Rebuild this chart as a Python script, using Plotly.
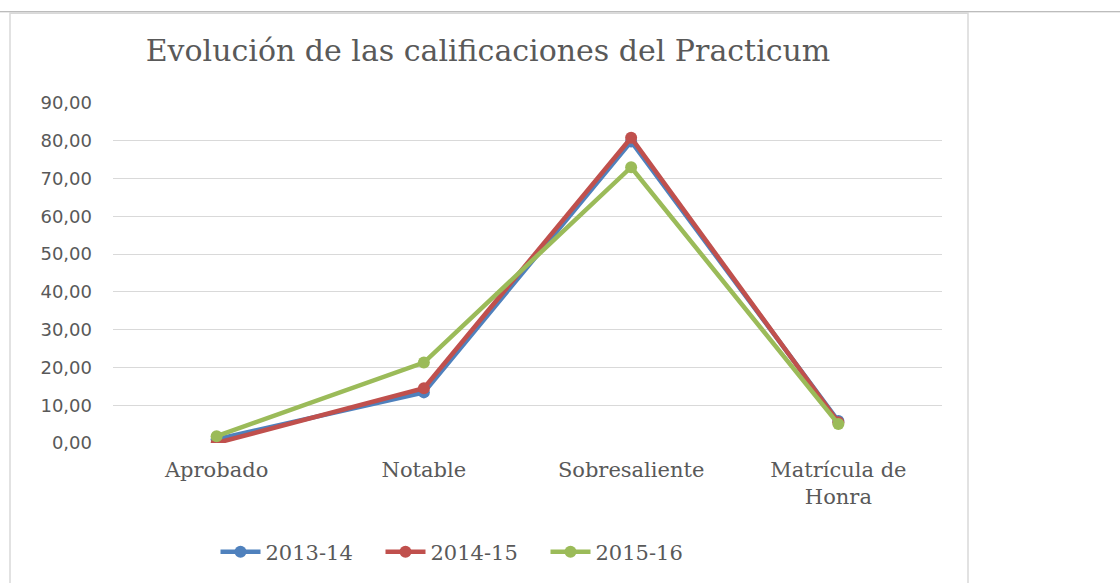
import plotly.graph_objects as go

categories = ["Aprobado", "Notable", "Sobresaliente", "Matrícula de<br>Honra"]
s2013 = [1.0, 13.4, 79.8, 5.8]
s2014 = [0.0, 14.5, 80.8, 5.5]
s2015 = [1.8, 21.3, 73.0, 5.0]
series_names = ["2013-14", "2014-15", "2015-16"]
colors = ["#4F81BD", "#C0504D", "#9BBB59"]
yticks = [0, 10, 20, 30, 40, 50, 60, 70, 80, 90]

fig = go.Figure()
for name, vals, col in zip(series_names, [s2013, s2014, s2015], colors):
    fig.add_trace(go.Scatter(
        x=categories, y=vals, name=name, mode="lines+markers",
        line=dict(color=col, width=4.5),
        marker=dict(color=col, size=12),
    ))

L, R, T, B = 113, 942, 103, 444
W, H = 1120, 583
def px(x):
    return (x - L) / (R - L)
def py(y):
    return (B - y) / (B - T)

shapes = [
    dict(type="rect", xref="paper", yref="paper", x0=px(10), x1=px(968), y0=py(590), y1=py(13),
         line=dict(color="#d9d9d9", width=1.5), fillcolor="rgba(0,0,0,0)", layer="below"),
    dict(type="line", xref="paper", yref="paper", x0=px(0), x1=px(1120), y0=py(11.5), y1=py(11.5),
         line=dict(color="#a6a6a6", width=1.2)),
]

fig.update_layout(
    width=W, height=H,
    margin=dict(l=L, r=W - R, t=T, b=H - B),
    paper_bgcolor="white", plot_bgcolor="white",
    separators=",.",
    title=dict(text="Evolución de las calificaciones del Practicum", x=488 / W, xanchor="center",
               y=1 - 50 / H, yanchor="middle",
               font=dict(family="DejaVu Serif", size=30, color="#595959")),
    xaxis=dict(showgrid=False, showline=False, ticks="", range=[-0.5, 3.5],
               ticklabelstandoff=12,
               tickfont=dict(family="DejaVu Serif", size=21, color="#595959")),
    yaxis=dict(range=[0, 90], tickvals=yticks, tickformat=".2f", showgrid=True,
               gridcolor="#d9d9d9", gridwidth=1, zeroline=False, showline=False,
               ticklabelstandoff=20,
               tickfont=dict(family="DejaVu Sans", size=18, color="#595959")),
    legend=dict(orientation="h", x=px(463), xanchor="center", y=py(552), yanchor="middle",
                font=dict(family="DejaVu Serif", size=21, color="#595959"),
                itemwidth=40, tracegroupgap=0, entrywidth=110, entrywidthmode="pixels"),
    shapes=shapes,
    showlegend=True,
)
fig.write_html("out.html", config={"displayModeBar": False})

with open("out.html", "r", encoding="utf-8") as f:
    html = f.read()
html = html.replace("<head>", "<head><style>html,body{margin:0;padding:0;overflow:hidden;}</style>", 1)
with open("out.html", "w", encoding="utf-8") as f:
    f.write(html)
